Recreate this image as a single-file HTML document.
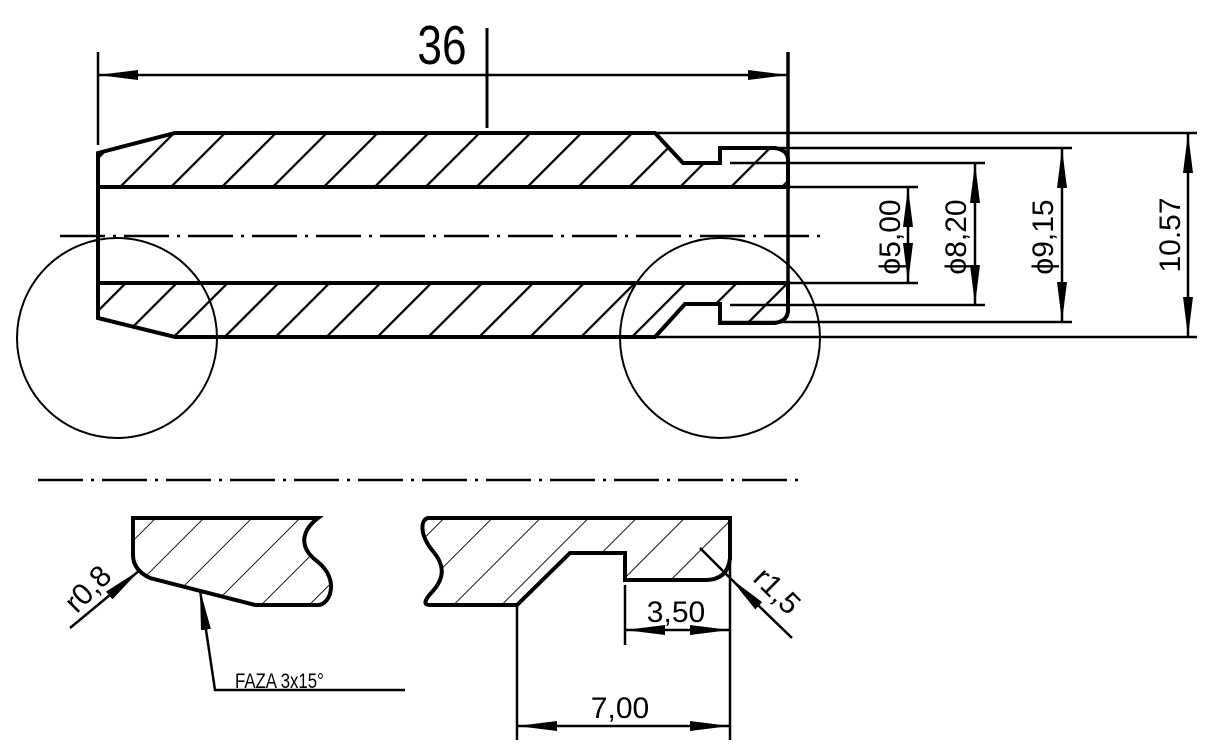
<!DOCTYPE html>
<html><head><meta charset="utf-8"><style>html,body{margin:0;padding:0;background:#fff}svg{display:block}text{font-family:"Liberation Sans",sans-serif;fill:#000}</style></head><body>
<svg width="1217" height="755" viewBox="0 0 1217 755" xmlns="http://www.w3.org/2000/svg">
<defs>
<pattern id="h1" width="36" height="36" patternUnits="userSpaceOnUse" patternTransform="rotate(45)"><line x1="0" y1="0" x2="0" y2="36" stroke="#000" stroke-width="4.5"/></pattern>
<pattern id="h2" width="34" height="34" patternUnits="userSpaceOnUse" patternTransform="rotate(45)"><line x1="0" y1="0" x2="0" y2="34" stroke="#000" stroke-width="1.8"/></pattern>
<marker id="a" viewBox="0 0 40 10" refX="40" refY="5" markerWidth="40" markerHeight="10" markerUnits="userSpaceOnUse" orient="auto-start-reverse"><path d="M0,0 L40,5 L0,10 Z" fill="#000"/></marker>
</defs>
<g fill="none" stroke="#000">
<path d="M98,153 L175,133 L655,133 L683,163 L720,163 L720,148 L775,148 Q788,150 788,160 L788,187 L98,187 Z" fill="url(#h1)" stroke-width="4"/>
<path d="M98,318 L175,337 L655,337 L685,304 L720,304 L720,323 L775,323 Q788,321 788,310 L788,283 L98,283 Z" fill="url(#h1)" stroke-width="4"/>
<line x1="98" y1="153" x2="98" y2="318" stroke-width="4"/>
<line x1="788" y1="52" x2="788" y2="312" stroke-width="3.5"/>
<line x1="98" y1="52" x2="98" y2="145" stroke-width="2.5"/>
<line x1="98" y1="75" x2="788" y2="75" stroke-width="2.5" marker-start="url(#a)" marker-end="url(#a)"/>
<line x1="487" y1="28" x2="487" y2="128" stroke-width="3"/>
<g stroke-width="2.5">
<line x1="655" y1="133" x2="1197" y2="133"/>
<line x1="720" y1="148" x2="1072" y2="148"/>
<line x1="730" y1="163" x2="985" y2="163"/>
<line x1="788" y1="187" x2="918" y2="187"/>
<line x1="788" y1="283" x2="918" y2="283"/>
<line x1="730" y1="305" x2="985" y2="305"/>
<line x1="720" y1="322" x2="1072" y2="322"/>
<line x1="655" y1="337" x2="1197" y2="337"/>
<line x1="908" y1="187" x2="908" y2="283" marker-start="url(#a)" marker-end="url(#a)"/>
<line x1="975" y1="163" x2="975" y2="305" marker-start="url(#a)" marker-end="url(#a)"/>
<line x1="1062" y1="148" x2="1062" y2="322" marker-start="url(#a)" marker-end="url(#a)"/>
<line x1="1188" y1="133" x2="1188" y2="337" marker-start="url(#a)" marker-end="url(#a)"/>
</g>
<line x1="60" y1="236" x2="825" y2="236" stroke-width="2.5" stroke-dasharray="45,8,3,8"/>
<line x1="38" y1="480" x2="805" y2="480" stroke-width="2.5" stroke-dasharray="45,8,3,8"/>
<circle cx="117" cy="338" r="100" stroke-width="2"/>
<circle cx="720" cy="338" r="100" stroke-width="2"/>
<path d="M133,518 L318,518 C305,528 295,545 318,562 C340,580 330,605 318,605 L255,605 L150,578 Q133,570 133,555 Z" fill="url(#h2)" stroke-width="4"/>
<line x1="70" y1="628" x2="140" y2="570" stroke-width="2.5" marker-end="url(#a)"/>
<path d="M405,690 L215,690 L200,590" stroke-width="2.5" marker-end="url(#a)"/>
<path d="M428,518 L730,518 L730,558 Q728,580 705,580 L625,580 L625,553 L570,553 L517,605 L430,605 Q420,605 432,592 C445,578 445,565 432,550 C420,535 420,520 428,518 Z" fill="url(#h2)" stroke-width="4"/>
<g stroke-width="2.5">
<line x1="625" y1="585" x2="625" y2="645"/>
<line x1="730" y1="518" x2="730" y2="740"/>
<line x1="517" y1="605" x2="517" y2="740"/>
<line x1="625" y1="630" x2="730" y2="630" marker-start="url(#a)" marker-end="url(#a)"/>
<line x1="517" y1="726" x2="730" y2="726" marker-start="url(#a)" marker-end="url(#a)"/>
<line x1="792" y1="638" x2="730" y2="578" marker-end="url(#a)"/>
<line x1="700" y1="548" x2="730" y2="578"/>
</g>
</g>
<text x="442" y="64" font-size="52" text-anchor="middle" transform="translate(442,64) scale(0.85,1.05) translate(-442,-64)">36</text>
<text font-size="30" text-anchor="middle" transform="translate(900,237) rotate(-90)">ϕ5,00</text>
<text font-size="30" text-anchor="middle" transform="translate(966,237) rotate(-90)">ϕ8,20</text>
<text font-size="30" text-anchor="middle" transform="translate(1053,237) rotate(-90)">ϕ9,15</text>
<text font-size="30" text-anchor="middle" transform="translate(1180,235) rotate(-90)">10.57</text>
<text font-size="30" text-anchor="middle" transform="translate(95,596) rotate(-45)">r0,8</text>
<text font-size="30" text-anchor="middle" transform="translate(770,598) rotate(45)">r1,5</text>
<text x="676" y="622" font-size="30" text-anchor="middle">3,50</text>
<text x="620" y="718" font-size="30" text-anchor="middle">7,00</text>
<text x="235" y="688" font-size="21" transform="translate(235,688) scale(0.8,1) translate(-235,-688)">FAZA 3x15°</text>
</svg>
</body></html>
